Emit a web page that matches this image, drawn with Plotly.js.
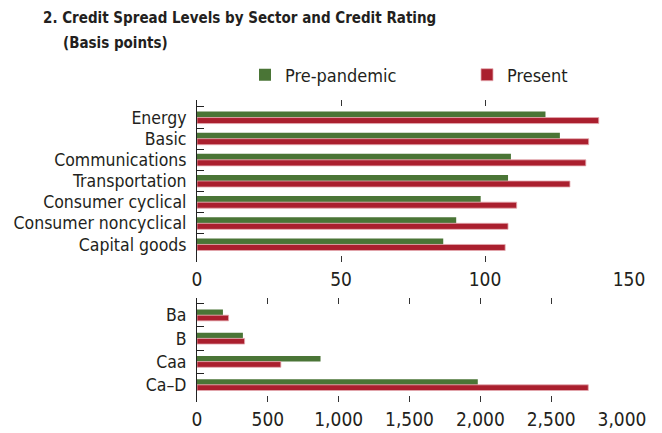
<!DOCTYPE html>
<html>
<head>
<meta charset="utf-8">
<script src="https://cdn.plot.ly/plotly-3.0.1.min.js"></script>
<style>
  body { margin: 0; background: #fff; }
  #chart { width: 662px; height: 433px; }
</style>
</head>
<body>
<div id="chart"></div>
<script>
// sectors (top panel, basis points)
const sectors = ["Energy", "Basic", "Communications", "Transportation",
  "Consumer cyclical", "Consumer noncyclical", "Capital goods"];
const sectorPre = [121, 126, 109, 108, 98.5, 90, 85.5];
const sectorNow = [139.5, 136, 135, 129.5, 111, 108, 107];

// credit ratings (bottom panel, basis points)
const ratings = ["Ba", "B", "Caa", "Ca\u2013D"];
const ratingPre = [183, 324, 872, 1982];
const ratingNow = [223, 336, 592, 2762];

const GREEN = "#4a7536";
const RED = "#aa1f2e";
const FONT = "Liberation Sans Narrow, DejaVu Sans Condensed, Arial Narrow, sans-serif";

var traces = [
  {
    type: "bar", orientation: "h", name: "Pre-pandemic", legend: "legend",
    y: sectors, x: sectorPre, xaxis: "x", yaxis: "y",
    width: 0.285, offset: -0.285,
    marker: { color: GREEN },
  },
  {
    type: "bar", orientation: "h", name: "Present", legend: "legend2",
    y: sectors, x: sectorNow, xaxis: "x", yaxis: "y",
    width: 0.285, offset: 0,
    marker: { color: RED, line: { color: "#e4a9b0", width: 0.8 } },
  },
  {
    type: "bar", orientation: "h", name: "Pre-pandemic", showlegend: false,
    y: ratings, x: ratingPre, xaxis: "x2", yaxis: "y2",
    width: 0.245, offset: -0.245,
    marker: { color: GREEN },
  },
  {
    type: "bar", orientation: "h", name: "Present", showlegend: false,
    y: ratings, x: ratingNow, xaxis: "x2", yaxis: "y2",
    width: 0.245, offset: 0,
    marker: { color: RED, line: { color: "#e4a9b0", width: 0.8 } },
  },
];

var xcommon = {
  showgrid: false, zeroline: false, showline: false,
  ticks: "inside", mirror: "ticks", ticklen: 6, tickwidth: 1, tickcolor: "#333",
  ticklabelstandoff: 4, tickfont: { size: 19 }, fixedrange: true,
};
var ycommon = {
  type: "category", dtick: 1, showgrid: false, zeroline: false,
  showline: true, linecolor: "#222", linewidth: 1,
  ticks: "inside", tickson: "boundaries", ticklen: 7, tickwidth: 1, tickcolor: "#222",
  ticklabelstandoff: 6, tickfont: { size: 17.5 }, fixedrange: true,
};

var legendBase = {
  orientation: "h", xanchor: "left", yanchor: "middle",
  y: 1 + (100 - 75) / 302, font: { size: 18 },
};

var layout = {
  width: 662, height: 433,
  margin: { l: 197, r: 33, t: 100, b: 31 },
  font: { family: FONT, size: 18, color: "#231f20" },
  paper_bgcolor: "#fff", plot_bgcolor: "#fff",
  barmode: "overlay",
  title: {
    text: "<b>2. Credit Spread Levels by Sector and Credit Rating</b>",
    xref: "container", yref: "container",
    x: 43 / 662, xanchor: "left", y: 1 - 18 / 433, yanchor: "middle",
    font: { size: 15 },
  },
  annotations: [
    {
      text: "<b>(Basis points)</b>", showarrow: false,
      xref: "paper", yref: "paper", x: (61 - 197) / 432, xanchor: "left",
      y: 1 + (100 - 43) / 302, yanchor: "middle", font: { size: 15 },
    },
  ],
  legend: Object.assign({}, legendBase, { x: (245 - 197) / 432 }),
  legend2: Object.assign({}, legendBase, { x: (467 - 197) / 432 }),
  xaxis: Object.assign({}, xcommon, { domain: [0, 1], range: [0, 150], dtick: 50, anchor: "y" }),
  yaxis: Object.assign({}, ycommon, { domain: [140 / 302, 1], range: [6.83, -0.83], anchor: "x" }),
  xaxis2: Object.assign({}, xcommon, { domain: [0, 425 / 432], range: [0, 3000], dtick: 500, tickformat: ",d", anchor: "y2" }),
  yaxis2: Object.assign({}, ycommon, { domain: [0, 104 / 302], range: [3.74, -0.74], anchor: "x2" }),
};

Plotly.newPlot("chart", traces, layout, { displayModeBar: false, staticPlot: true });
</script>
</body>
</html>
